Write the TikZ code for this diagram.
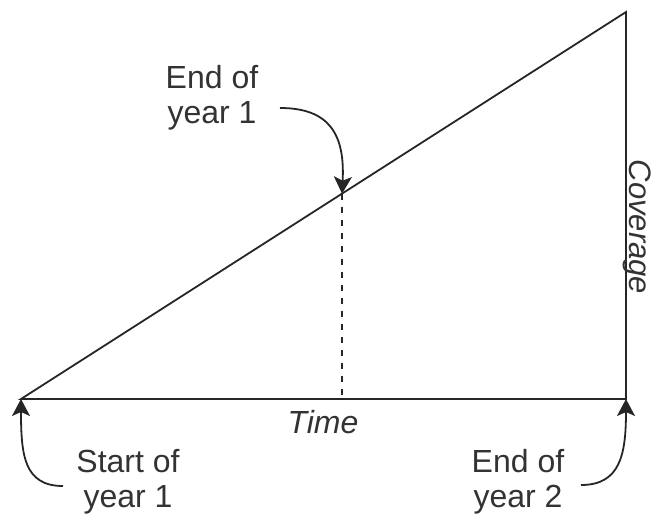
\documentclass[tikz,border=0pt]{standalone}
\usepackage{fontspec}
\setmainfont{Liberation Sans}
\usetikzlibrary{arrows.meta,calc}
\begin{document}
\begin{tikzpicture}[x=1pt,y=-1pt,
  line/.style={line width=1.8pt,draw=black!85},
  lbl/.style={font=\fontsize{32}{35}\selectfont,text=black!80,align=center,inner sep=0pt},
  curved/.style={line width=1.8pt,draw=black!85,-{Stealth[length=17pt,width=18pt,inset=4pt]}}]
\useasboundingbox (0,0) rectangle (651,521);
\coordinate (A) at (21,399);
\coordinate (B) at (626,399);
\coordinate (C) at (626,12);
\coordinate (M) at ($(A)!0.5306!(C)$);
\coordinate (Mb) at (M |- A);
\draw[line] (A) -- (C) -- (B) -- cycle;
\draw[line width=1.5pt,draw=black!85,dash pattern=on 6pt off 7pt] (M) -- (Mb);
\node[lbl,font=\fontsize{32}{35}\selectfont\itshape] (time) at (323,422) {Time};
\node[lbl,font=\fontsize{31}{35}\selectfont\itshape,rotate=-90,anchor=base] (cov) at (629,227) {Coverage};
\node[lbl] (s1) at (128,482) {Start of\\year 1};
\node[lbl] (e2) at (518,482) {End of\\year 2};
\node[lbl] (e1) at (212,98) {End of\\year 1};
\coordinate (s1c) at (63,486);
\coordinate (e2c) at (581,485);
\coordinate (e1c) at (280,108);
\draw[curved] (s1c) .. controls (24,486) and (21,455) .. (A);
\draw[curved] (e2c) .. controls (620,485) and (626,455) .. (B);
\draw[curved] (e1c) .. controls (330,108) and (345,135) .. (M);
\end{tikzpicture}
\end{document}
